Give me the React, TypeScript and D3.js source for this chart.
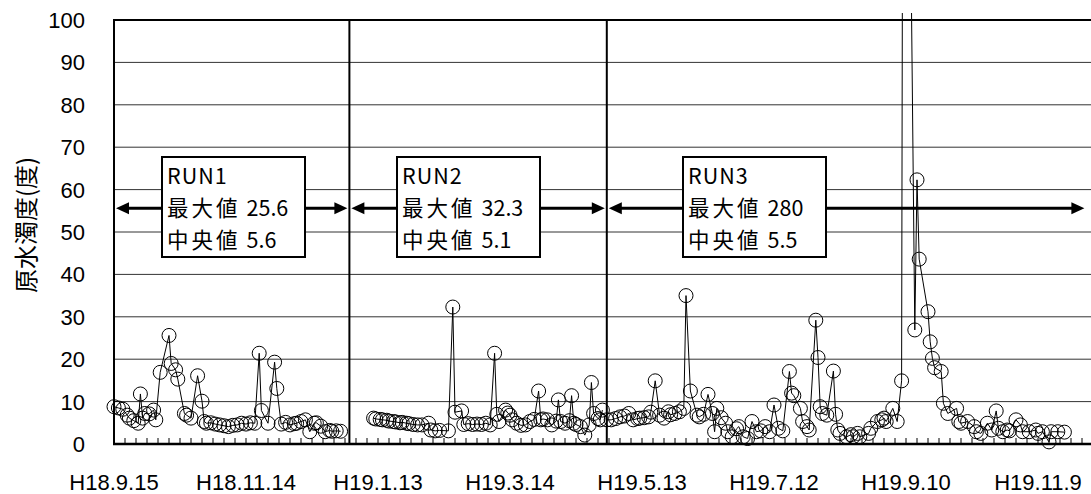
import React from "react";
import * as d3 from "d3";

// Sampling dates are stored as day offsets from the first sampling day.
const START_DATE = "2006-09-15";

const run1Days = [0, 2, 4, 6, 7, 9, 11, 12, 13, 14, 16, 18, 19, 21, 25, 26, 28, 29, 32, 33, 35, 38, 40, 41, 42, 44, 46, 48, 50, 52, 54, 56, 58, 60, 62, 64, 66, 67, 70, 73, 74, 76, 78, 80, 82, 83, 85, 87, 89, 91, 92, 94, 96, 98, 99, 101, 103];
const run1Turbidity = [8.8, 8.5, 8.2, 6.8, 6.1, 5.5, 4.9, 11.8, 6.1, 7.2, 7.1, 8.0, 5.7, 16.9, 25.6, 19.0, 17.5, 15.3, 7.2, 6.8, 6.1, 16.1, 10.1, 5.3, 4.9, 5.0, 4.7, 4.5, 4.3, 4.1, 4.4, 4.5, 4.9, 4.7, 5.0, 4.9, 21.4, 7.9, 4.9, 19.3, 13.1, 4.7, 5.1, 4.5, 4.8, 4.9, 5.3, 5.7, 2.9, 4.9, 5.0, 4.2, 2.9, 3.2, 3.0, 3.1, 3.0];

const run2Days = [118, 119, 121, 122, 124, 125, 127, 128, 130, 131, 133, 134, 136, 138, 140, 143, 144, 146, 148, 152, 154, 155, 158, 159, 161, 163, 165, 167, 169, 171, 173, 174, 175, 178, 179, 180, 181, 183, 185, 187, 189, 191, 193, 194, 195, 197, 199, 201, 202, 203, 205, 207, 208, 209, 210, 212, 214, 216, 217, 218, 220, 221, 222];
const run2Turbidity = [6.1, 5.9, 5.8, 5.7, 5.6, 5.4, 5.3, 5.2, 5.0, 5.1, 4.9, 4.8, 4.6, 4.5, 4.5, 4.9, 3.3, 3.1, 3.2, 3.1, 32.3, 7.5, 7.8, 4.6, 4.8, 4.6, 4.7, 4.6, 4.9, 4.5, 21.4, 7.0, 5.3, 8.0, 7.3, 6.8, 5.7, 4.9, 4.4, 4.5, 5.3, 5.8, 12.5, 5.7, 5.9, 5.7, 4.5, 5.4, 10.4, 5.3, 4.9, 5.5, 11.4, 4.9, 4.6, 4.1, 2.1, 4.5, 14.5, 7.2, 6.0, 5.7, 8.0];

const run3Days = [224, 226, 228, 230, 232, 234, 236, 238, 239, 241, 243, 244, 246, 248, 250, 252, 253, 255, 257, 259, 260, 262, 265, 266, 268, 270, 272, 273, 274, 276, 278, 279, 281, 283, 284, 286, 288, 290, 292, 294, 296, 298, 300, 302, 304, 307, 308, 309, 312, 313, 315, 316, 319, 320, 321, 322, 324, 327, 328, 329, 330, 333, 335, 336, 338, 339, 343, 344, 347, 349, 350, 351, 354, 356, 358, 359, 364, 365, 366, 370, 371, 372, 373, 376, 377, 379, 383, 384, 385, 388, 391, 392, 394, 397, 399, 401, 402, 404, 406, 407, 410, 412, 413, 416, 419, 420, 422, 425, 426, 429, 432];
const run3Turbidity = [5.7, 5.7, 6.0, 6.4, 6.6, 7.2, 5.7, 6.0, 6.1, 6.2, 6.4, 7.5, 14.9, 6.8, 6.1, 7.6, 6.9, 7.2, 7.6, 8.4, 35.0, 12.5, 6.8, 6.4, 7.0, 11.7, 7.2, 2.9, 8.4, 6.2, 4.9, 2.9, 1.7, 3.6, 4.1, 1.7, 1.3, 5.3, 2.9, 3.1, 4.1, 2.9, 9.2, 3.7, 3.1, 17.1, 12.0, 11.4, 8.4, 5.3, 4.1, 3.3, 29.2, 20.4, 8.8, 7.2, 6.8, 17.2, 7.0, 3.3, 2.5, 1.7, 2.2, 1.7, 2.5, 1.7, 2.5, 3.7, 5.3, 5.7, 6.1, 5.3, 8.4, 5.3, 14.9, 280, 26.9, 62.3, 43.6, 31.2, 24.1, 20.2, 18.0, 17.1, 9.6, 7.2, 8.4, 5.3, 4.9, 5.3, 4.1, 2.9, 2.5, 4.9, 3.3, 7.8, 3.7, 2.9, 3.3, 3.1, 5.7, 4.5, 2.9, 2.9, 3.3, 2.5, 2.9, 0.5, 2.9, 2.9, 2.8];

// Run periods: start of RUN1, RUN1/RUN2 change, RUN2/RUN3 change, end of RUN3 arrow
const runBoundaryDates = ["2006-09-15", "2006-12-31", "2007-04-27", "2007-12-01"];
const runNames = ["RUN1", "RUN2", "RUN3"];
const runMaxLabels = ["25.6", "32.3", "280"];
const runMedianLabels = ["5.6", "5.1", "5.5"];

const xTickDates = ["2006-09-15", "2006-11-14", "2007-01-13", "2007-03-14", "2007-05-13", "2007-07-12", "2007-09-10", "2007-11-09"];
const xTickLabels = ["H18.9.15", "H18.11.14", "H19.1.13", "H19.3.14", "H19.5.13", "H19.7.12", "H19.9.10", "H19.11.9"];
const yTickValues = [0, 10, 20, 30, 40, 50, 60, 70, 80, 90, 100];

const Y_LABEL = "原水濁度(度)";

// Layout
const W = 1091;
const H = 494;
const PLOT_LEFT = 114;
const PLOT_TOP = 20;
const PLOT_BOTTOM = 444;
const X_RANGE_END = 1095.2;
const BOX_LEFT = [162, 397, 683];
const BOX_WIDTH = 143;
const BOX_TOP = 157;
const BOX_HEIGHT = 100;
const BOX_FONT = 21.5;
const BOX_ROWS = [27, 59, 91];
const ARROW_VALUE = 55.6;

const SANS = "'Liberation Sans', Arial, sans-serif";
const JP = "'Noto Sans CJK JP', sans-serif";

type Pt = { date: Date; v: number };

export default function App() {
  const parse = d3.utcParse("%Y-%m-%d");
  const start = parse(START_DATE) as Date;
  const endDomain = d3.utcDay.offset(start, 446);

  const x = d3.scaleUtc().domain([start, endDomain]).range([PLOT_LEFT, X_RANGE_END]);
  const y = d3.scaleLinear().domain([0, 100]).range([PLOT_BOTTOM, PLOT_TOP]);

  const toSeries = (days: number[], vals: number[]): Pt[] =>
    days.map((d, i) => ({ date: d3.utcDay.offset(start, d), v: vals[i] }));

  const series = [
    toSeries(run1Days, run1Turbidity),
    toSeries(run2Days, run2Turbidity),
    toSeries(run3Days, run3Turbidity),
  ];

  const line = d3
    .line<Pt>()
    .x((d) => x(d.date))
    .y((d) => y(d.v));

  const minorTicks = d3.utcDay.range(start, endDomain, 5).slice(1);
  const boundaries = runBoundaryDates.map((s) => x(parse(s) as Date));
  const arrowY = y(ARROW_VALUE);

  const head = (tipX: number, dir: number) => {
    const len = 13;
    const hw = 6;
    return `M${tipX},${arrowY} L${tipX - dir * len},${arrowY - hw} L${tipX - dir * len},${arrowY + hw} Z`;
  };

  return (
    <svg
      width={W}
      height={H}
      viewBox={`0 0 ${W} ${H}`}
      style={{ position: "absolute", left: 0, top: 0, display: "block", background: "#fff" }}
    >
      <defs>
        <clipPath id="dataClip">
          <rect x={0} y={13} width={W} height={H - 13} />
        </clipPath>
      </defs>

      {/* horizontal grid */}
      {yTickValues
        .filter((v) => v > 0 && v < 100)
        .map((v) => (
          <line key={"g" + v} x1={PLOT_LEFT} x2={W} y1={y(v)} y2={y(v)} stroke="#333" strokeWidth={1} />
        ))}

      {/* frame */}
      <line x1={PLOT_LEFT} x2={W} y1={y(100)} y2={y(100)} stroke="#000" strokeWidth={2} />
      <line x1={PLOT_LEFT} x2={PLOT_LEFT} y1={PLOT_TOP - 1} y2={PLOT_BOTTOM} stroke="#000" strokeWidth={2} />

      {/* run separators */}
      {boundaries.slice(1, 3).map((bx, i) => (
        <line key={"sep" + i} x1={bx} x2={bx} y1={PLOT_TOP} y2={PLOT_BOTTOM} stroke="#000" strokeWidth={2} />
      ))}

      {/* arrows and run boxes */}
      {runNames.map((name, i) => {
        const l = boundaries[i] + 2;
        const r = boundaries[i + 1] - 2;
        const bl = BOX_LEFT[i];
        const br = bl + BOX_WIDTH;
        return (
          <g key={name}>
            <line x1={l + 10} x2={bl} y1={arrowY} y2={arrowY} stroke="#000" strokeWidth={3} />
            <line x1={br} x2={r - 10} y1={arrowY} y2={arrowY} stroke="#000" strokeWidth={3} />
            <path d={head(l, -1)} fill="#000" />
            <path d={head(r, 1)} fill="#000" />
            <rect x={bl} y={BOX_TOP} width={BOX_WIDTH} height={BOX_HEIGHT} fill="#fff" stroke="#000" strokeWidth={2} />
            <text x={bl + 5} y={BOX_TOP + BOX_ROWS[0]} fontFamily={JP} fontSize={BOX_FONT} letterSpacing={1} fill="#000">
              {name}
            </text>
            <text x={bl + 5} y={BOX_TOP + BOX_ROWS[1]} fontFamily={JP} fontSize={BOX_FONT} fill="#000">
              <tspan letterSpacing={3}>{"最大値"}</tspan>
              <tspan dx={6}>{runMaxLabels[i]}</tspan>
            </text>
            <text x={bl + 5} y={BOX_TOP + BOX_ROWS[2]} fontFamily={JP} fontSize={BOX_FONT} fill="#000">
              <tspan letterSpacing={3}>{"中央値"}</tspan>
              <tspan dx={6}>{runMedianLabels[i]}</tspan>
            </text>
          </g>
        );
      })}

      {/* data */}
      <g clipPath="url(#dataClip)">
        {series.map((s, i) => (
          <g key={"s" + i}>
            <path d={line(s) || ""} fill="none" stroke="#000" strokeWidth={1} />
            {s.map((p, j) => (
              <circle key={j} cx={x(p.date)} cy={y(p.v)} r={7} fill="none" stroke="#000" strokeWidth={1} />
            ))}
          </g>
        ))}
      </g>

      {/* x axis */}
      <line x1={PLOT_LEFT - 1} x2={W} y1={PLOT_BOTTOM} y2={PLOT_BOTTOM} stroke="#000" strokeWidth={2.5} />
      {minorTicks.map((d, i) => (
        <line key={"t" + i} x1={x(d)} x2={x(d)} y1={PLOT_BOTTOM} y2={PLOT_BOTTOM - 6} stroke="#000" strokeWidth={1} />
      ))}
      {xTickDates.map((s, i) => (
        <text key={"xl" + i} x={x(parse(s) as Date)} y={490} textAnchor="middle" fontFamily={SANS} fontSize={22} fill="#000">
          {xTickLabels[i]}
        </text>
      ))}

      {/* y axis labels */}
      {yTickValues.map((v) => (
        <text key={"yl" + v} x={85} y={y(v) + 8} textAnchor="end" fontFamily={SANS} fontSize={22} fill="#000">
          {v}
        </text>
      ))}
      <text
        transform={`translate(24, 225) rotate(-90)`}
        textAnchor="middle"
        dominantBaseline="central"
        fontFamily={JP}
        fontSize={24}
        fill="#000"
      >
        {Y_LABEL}
      </text>
    </svg>
  );
}
